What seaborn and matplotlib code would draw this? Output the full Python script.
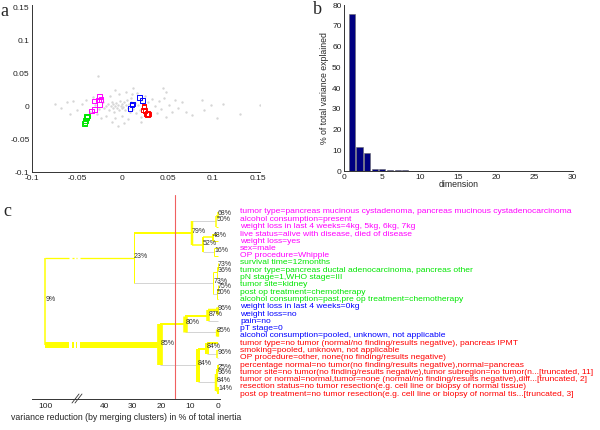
import numpy as np
import pandas as pd
import matplotlib
matplotlib.use('Agg')
import matplotlib.pyplot as plt
from matplotlib.lines import Line2D
import seaborn as sns

# ---- panel a: samples (grey dots) and category points (squares)
grey_x = [-0.030, -0.026, -0.022, -0.020, -0.018, -0.016, -0.015, -0.013, -0.012, -0.011,
          -0.010, -0.009, -0.008, -0.007, -0.006, -0.005, -0.004, -0.003, -0.002, -0.001,
          0.000, 0.001, 0.002, 0.003, 0.004, 0.005, 0.006, 0.007, 0.008, 0.009,
          0.010, 0.012, 0.014, 0.015, 0.017, 0.019, 0.021, 0.023, 0.026, 0.028,
          0.031, 0.033, 0.036, -0.045, -0.050, -0.055, -0.040, -0.036, -0.033, -0.028,
          -0.024, -0.018, -0.014, -0.008, -0.004, 0.000, 0.004, 0.006, 0.011, 0.016,
          0.020, 0.025, 0.030, 0.038, 0.040, 0.043, 0.046, 0.048, 0.052, 0.055,
          0.058, 0.062, 0.066, -0.075, -0.068, -0.062, -0.058, -0.027, -0.008, 0.012,
          0.045, 0.048, 0.070, 0.077, 0.088, 0.090, 0.098, 0.105, 0.112, 0.130,
          0.152, -0.005, 0.002, -0.012, 0.020]
grey_y = [0.002, -0.004, 0.006, -0.002, 0.001, 0.004, -0.006, 0.000, 0.007, -0.003,
          0.003, -0.008, 0.001, 0.005, -0.002, 0.002, -0.005, 0.008, 0.000, -0.003,
          0.004, -0.001, 0.006, -0.006, 0.002, 0.010, -0.003, 0.004, -0.009, 0.007,
          0.012, -0.004, 0.005, -0.010, 0.002, -0.006, 0.009, 0.003, -0.002, 0.006,
          -0.008, 0.011, 0.001, 0.004, -0.006, 0.008, 0.010, -0.008, 0.014, -0.012,
          -0.018, -0.014, 0.016, -0.018, 0.018, -0.015, 0.022, -0.019, 0.018, 0.020,
          -0.016, 0.016, -0.014, -0.010, 0.008, -0.004, 0.013, -0.016, 0.002, -0.009,
          0.010, -0.003, 0.006, 0.003, -0.002, 0.006, -0.012, 0.046, 0.025, 0.027,
          0.027, 0.021, -0.008, -0.013, 0.010, -0.006, 0.002, -0.017, 0.004, -0.011,
          0.002, -0.030, -0.026, -0.024, -0.024]

sq_x = [-0.0257, -0.0238, -0.0268, -0.0312, -0.0257, -0.0312, -0.0342,
        -0.0390, -0.0397, -0.0408, -0.0423, -0.0395, -0.0415,
        0.0187, 0.0220, 0.0110, 0.0084, 0.0105,
        0.0239, 0.0232, 0.0269, 0.0291, 0.0280, 0.0275, 0.0238, 0.0250]
sq_y = [0.0146, 0.0106, 0.0095, 0.0080, 0.0030, -0.0046, -0.0071,
        -0.0147, -0.0172, -0.0218, -0.0258, -0.0160, -0.0240,
        0.0136, 0.0085, 0.0035, -0.0031, 0.0020,
        -0.0006, -0.0056, -0.0117, -0.0117, -0.0120, -0.0115, -0.0010, -0.0060]
sq_group = ['m'] * 7 + ['g'] * 6 + ['b'] * 5 + ['r'] * 8

# ---- panel b: scree plot
dims = list(range(1, 17))
var_explained = [75.7, 11.7, 8.7, 1.3, 0.95, 0.65, 0.5, 0.4, 0.35, 0.28, 0.2, 0.15,
                 0.12, 0.1, 0.08, 0.06]

# ---- panel c: dendrogram of the categories
leaf_labels = [
    'tumor type=pancreas mucinous cystadenoma, pancreas mucinous cystadenocarcinoma',
    'alcohol consumption=present',
    'weight loss in last 4 weeks=4kg, 5kg, 6kg, 7kg',
    'live status=alive with disease, died of disease',
    'weight loss=yes',
    'sex=male',
    'OP procedure=Whipple',
    'survival time=12months',
    'tumor type=pancreas ductal adenocarcinoma, pancreas other',
    'pN stage=1,WHO stage=III',
    'tumor site=kidney',
    'post op treatment=chemotherapy',
    'alcohol consumption=past,pre op treatment=chemotherapy',
    'weight loss in last 4 weeks=0kg',
    'weight loss=no',
    'pain=no',
    'pT stage=0',
    'alcohol consumption=pooled, unknown, not applicable',
    'tumor type=no tumor (normal/no finding/results negative), pancreas IPMT',
    'smoking=pooled, unknown, not applicable',
    'OP procedure=other, none(no finding/results negative)',
    'percentage normal=no tumor(no finding/results negative),normal=pancreas',
    'tumor site=no tumor(no finding/results negative),tumor subregion=no tumor(n...[truncated, 11]',
    'tumor or normal=normal,tumor=none (normal/no finding/results negative),diff...[truncated, 2]',
    'resection status=no tumor resection(e.g. cell line or biopsy of normal tissue)',
    'post op treatment=no tumor resection(e.g. cell line or biopsy of normal tis...[truncated, 3]',
]
leaf_group = sq_group

# internal nodes 26..50 (children refer to leaf index or earlier node index)
node_left = [0, 26, 3, 5, 28, 27, 7, 32, 10, 34, 33, 31, 13, 38, 16, 39, 19, 18, 21, 44, 24, 45, 43, 41, 37]
node_right = [1, 2, 4, 6, 29, 30, 8, 9, 11, 12, 35, 36, 14, 15, 17, 40, 20, 42, 22, 23, 25, 46, 47, 48, 49]
node_height = [0.1, 0.7, 2.0, 1.4, 5.5, 9.3, 0.1, 0.3, 0.2, 0.4, 1.7, 29.5, 0.3, 3.5, 0.4, 11.5,
               0.3, 4.1, 0.2, 0.4, 0.1, 0.7, 7.2, 20.3, 100]
node_pct = [68, 50, 48, 16, 52, 79, 73, 36, 75, 50, 73, 23, 96, 87, 85, 80,
            96, 84, 25, 96, 14, 84, 84, 85, 9]
node_bar_px = [1.5, 1.5, 2, 1, 2, 2.5, 1, 1, 1, 1, 1, 1, 3, 3.5, 3.3, 4.5,
               1.5, 4, 2, 2, 2, 2.5, 4, 5.7, 1.5]
# link from each internal node up to its parent (root entry unused)
node_link_px = [1.5, 1, 1.5, 1, 1.5, 2, 1, 1, 1, 1, 1, 1.3, 2.5, 2, 1, 2,
                1, 2, 1, 1, 1, 1, 1, 6, 0]
node_link_col = ['y', 'g', 'y', 'g', 'y', 'y', 'y', 'y', 'y', 'g', 'g', 'y', 'y', 'y', 'g', 'y',
                 'g', 'y', 'y', 'g', 'y', 'g', 'g', 'y', 'y']
leaf_link_col = ['y'] * 26
leaf_link_col[15] = 'g'
leaf_link_col[20] = 'g'
cut_level = 15.1

group_colors = {'m': '#ff00ff', 'g': '#00e600', 'b': '#0000ff', 'r': '#ff0000'}
link_colors = {'y': '#ffff00', 'g': '#d4d4d4'}

W, H = 600, 430
PX = 72 / 100  # px -> points


def box(l, t, r, b):
    return [l / W, 1 - b / H, (r - l) / W, (b - t) / H]


sns.set_style('white')
plt.rcParams['font.family'] = ['Liberation Sans', 'DejaVu Sans']
plt.rcParams['axes.unicode_minus'] = False
plt.rcParams['axes.edgecolor'] = '#333333'
plt.rcParams['axes.linewidth'] = 0.7
plt.rcParams['xtick.color'] = '#333333'
plt.rcParams['ytick.color'] = '#333333'

fig = plt.figure(figsize=(6, 4.3), dpi=100)


def matlab_axes(ax):
    sns.despine(ax=ax)
    ax.tick_params(direction='in', length=2.5, width=0.6, labelsize=6, pad=2, labelcolor='#222222')


# ---------- a
ax_a = fig.add_axes(box(32.3, 5.3, 260, 172.3))
pts = pd.DataFrame({'x': grey_x, 'y': grey_y})
sns.scatterplot(data=pts, x='x', y='y', ax=ax_a, color='#d6d6d6', s=3, linewidth=0, zorder=1)
sq = pd.DataFrame({'x': sq_x, 'y': sq_y, 'group': sq_group})
sns.scatterplot(data=sq, x='x', y='y', hue='group', palette=group_colors, marker='s', s=12,
                linewidth=0.7, legend=False, ax=ax_a, zorder=3)
coll = ax_a.collections[-1]
coll.set_edgecolors(coll.get_facecolors())
coll.set_facecolors('none')
ax_a.set_xlim(-0.1, 0.1525)
ax_a.set_ylim(-0.1, 0.153)
ax_a.set_xticks([-0.1, -0.05, 0, 0.05, 0.1, 0.15])
ax_a.set_xticklabels(['-0.1', '-0.05', '0', '0.05', '0.1', '0.15'])
ax_a.set_yticks([-0.1, -0.05, 0, 0.05, 0.1, 0.15])
ax_a.set_yticklabels(['-0.1', '-0.05', '0', '0.05', '0.1', '0.15'])
ax_a.set_xlabel('')
ax_a.set_ylabel('')
matlab_axes(ax_a)

# ---------- b
ax_b = fig.add_axes(box(344.3, 5, 572.7, 171.3))
scree = pd.DataFrame({'dimension': dims, 'pct': var_explained})
sns.barplot(data=scree, x='dimension', y='pct', native_scale=True, orient='v', width=0.8,
            color='#000080', edgecolor='#666666', linewidth=0.4, saturation=1, ax=ax_b)
ax_b.set_xlim(0, 30)
ax_b.set_ylim(0, 80)
ax_b.set_xticks(range(0, 31, 5))
ax_b.set_yticks(range(0, 81, 10))
ax_b.set_xlabel('dimension', fontsize=6.3, labelpad=-1)
ax_b.set_ylabel('% of total variance explained', fontsize=6.3, labelpad=2)
matlab_axes(ax_b)

# ---------- c
ax_c = fig.add_axes(box(32, 195, 220, 399))
BREAK_POS = 60.5


def xmap(h):
    return h if h <= 45 else BREAK_POS


n_leaf = len(leaf_labels)
pos_y = list(range(n_leaf))
pos_h = [0.0] * n_leaf
for l, r, h in zip(node_left, node_right, node_height):
    pos_y.append((pos_y[l] + pos_y[r]) / 2)
    pos_h.append(h)
root = len(pos_y) - 1
link_px = [1] * n_leaf + node_link_px
link_c = leaf_link_col + node_link_col
link_px[18] = 2

gaps = [(BREAK_POS, 52.2), (51.1, 50.6), (49.9, 49.4), (48.4, None)]
for k, (l, r) in enumerate(zip(node_left, node_right)):
    p = n_leaf + k
    xp = xmap(pos_h[p])
    for c in (l, r):
        col = link_colors[link_c[c]]
        if p == root:
            for x0, x1 in gaps:
                x1 = pos_h[c] if x1 is None else x1
                ax_c.plot([x0, x1], [pos_y[c]] * 2, color=col, lw=link_px[c] * PX,
                          solid_capstyle='butt', zorder=1)
        else:
            ax_c.plot([xp, pos_h[c]], [pos_y[c]] * 2, color=col, lw=link_px[c] * PX,
                      solid_capstyle='butt', zorder=1 if link_c[c] == 'g' else 2)
    ax_c.plot([xp, xp], [pos_y[l], pos_y[r]], color='#ffff00', lw=node_bar_px[k] * PX,
              solid_capstyle='butt', zorder=3)
for k in range(len(node_left)):
    p = n_leaf + k
    ax_c.annotate(f'{node_pct[k]}%', (xmap(pos_h[p]), pos_y[p]), xytext=(0, 1.2),
                  textcoords='offset points', ha='left', va='center', fontsize=5,
                  color='#333333', zorder=5)
for i, (lab, g) in enumerate(zip(leaf_labels, leaf_group)):
    ax_c.annotate(lab, (0, i), xytext=(15.6, 0), textcoords='offset points', ha='left',
                  va='center', fontsize=6.1, color=group_colors[g], annotation_clip=False)

ax_c.axvline(cut_level, color='#f06060', lw=0.8, zorder=4)
ax_c.set_xlim(65.2, -0.6)
ax_c.set_ylim(25.66, -2.33)
ax_c.set_xticks([BREAK_POS, 40, 30, 20, 10, 0])
ax_c.set_xticklabels(['100', '40', '30', '20', '10', '0'])
ax_c.set_yticks([])
ax_c.set_xlabel('variance reduction (by merging clusters) in % of total inertia', fontsize=6.3,
                labelpad=2)
sns.despine(ax=ax_c, left=True)
ax_c.tick_params(axis='x', direction='in', length=2.5, width=0.6, labelsize=6, pad=3,
                 labelcolor='#222222')

# axis break marks
for dx in (0, 3):
    fig.add_artist(Line2D([(72 + dx) / W, (79 + dx) / W], [1 - 403 / H, 1 - 394 / H],
                          color='#333333', lw=0.6))

# panel letters
for letter, (px, py) in zip('abc', [(4, 11), (317, 9), (7, 211)]):
    fig.text(px / W, 1 - py / H, letter, family=['Liberation Serif', 'DejaVu Serif'],
             fontsize=13, ha='center', va='center')

fig.savefig('out.png', dpi=100)
